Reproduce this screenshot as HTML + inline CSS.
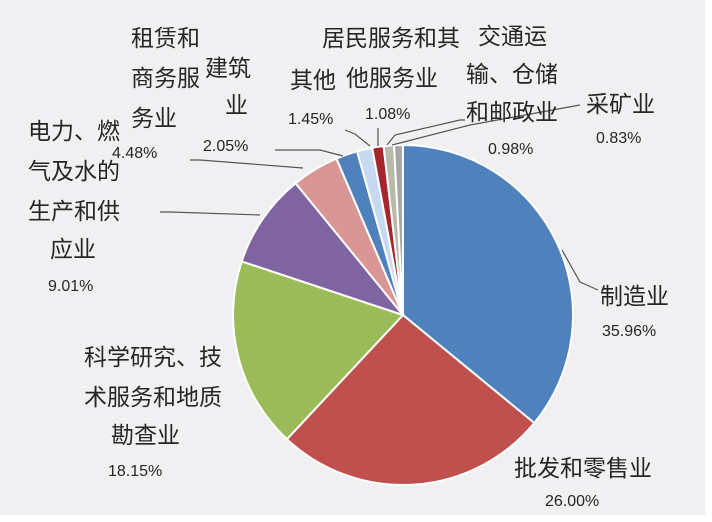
<!DOCTYPE html><html><head><meta charset="utf-8"><style>
body{margin:0;background:#fff}
svg{display:block}
text{font-family:"Liberation Sans","Noto Sans CJK SC",sans-serif;fill:#262626}
.c{font-size:23px}.n{font-size:16px}
</style></head><body>
<svg id="s" width="712" height="522" viewBox="0 0 712 522">
<rect width="712" height="522" fill="#fff"/>
<rect x="0" y="0" width="705" height="515" fill="#f0f0f2"/>
<g id="pie"></g>
<g stroke="#555" stroke-width="1.2" fill="none">
<polyline points="562,250 580,282 598,290"/>
<polyline points="303,168 200,160 190,160"/>
<polyline points="343,156 320,150 275,150"/>
<polyline points="370,146 355,134 345,130"/>
<polyline points="378,146 378,128"/>
<polyline points="387,145 395,135 460,120 465,120"/>
<polyline points="392,145 470,125 580,105"/>
<polyline points="260,215 170,212 160,212"/>
</g>
<g class="c">
<text x="131" y="46">租赁和</text><text x="131" y="86">商务服</text><text x="131" y="126">务业</text>
<text x="205" y="76">建筑</text><text x="225" y="113">业</text>
<text x="290" y="88">其他</text>
<text x="322" y="46">居民服务和其</text><text x="346" y="86">他服务业</text>
<text x="478" y="44">交通运</text><text x="466" y="82">输、仓储</text><text x="466" y="120">和邮政业</text>
<text x="586" y="112">采矿业</text>
<text x="28" y="139">电力、燃</text><text x="28" y="179">气及水的</text><text x="28" y="219">生产和供</text><text x="50" y="257">应业</text>
<text x="600" y="304">制造业</text>
<text x="84" y="365">科学研究、技</text><text x="84" y="405">术服务和地质</text><text x="111" y="443">勘查业</text>
<text x="514" y="476">批发和零售业</text>
</g>
<g class="n">
<text x="112" y="158">4.48%</text><text x="203" y="151">2.05%</text><text x="288" y="124">1.45%</text>
<text x="365" y="119">1.08%</text><text x="488" y="154">0.98%</text><text x="596" y="143">0.83%</text>
<text x="48" y="291">9.01%</text><text x="602" y="336">35.96%</text><text x="108" y="476">18.15%</text><text x="545" y="506">26.00%</text>
</g>
</svg>
<script>
var d=[[35.96,"#4f81bd"],[26,"#c0504d"],[18.15,"#9bbb59"],[9.01,"#8064a2"],[4.48,"#d99694"],[2.05,"#4f81bd"],[1.45,"#c6d9f1"],[1.08,"#a5272d"],[0.98,"#b9b9a9"],[0.83,"#a6a6a6"]];
var cx=403,cy=315,r=170,a=0,g=document.getElementById("pie"),h="";
function p(t){var q=t/100*2*Math.PI;return [cx+r*Math.sin(q),cy-r*Math.cos(q)];}
d.forEach(function(e){var s=p(a),f=p(a+e[0]);h+='<path d="M'+cx+','+cy+'L'+s[0].toFixed(1)+','+s[1].toFixed(1)+'A'+r+','+r+' 0 '+(e[0]>50?1:0)+' 1 '+f[0].toFixed(1)+','+f[1].toFixed(1)+'Z" fill="'+e[1]+'" stroke="#fff" stroke-width="2"/>';a+=e[0];});
g.innerHTML=h;
</script>
</body></html>
